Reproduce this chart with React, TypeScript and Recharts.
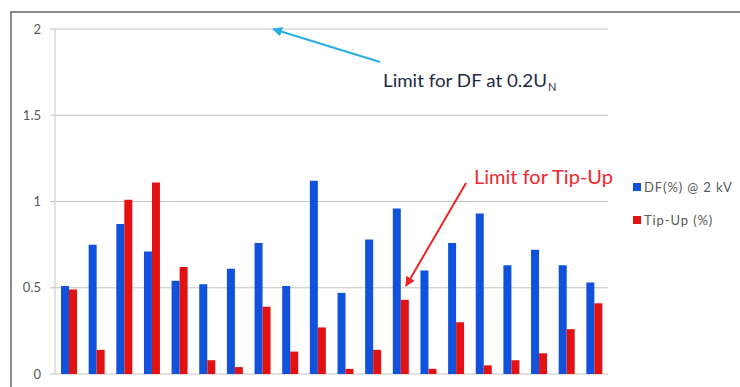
import { Bar, BarChart, CartesianGrid, Legend, XAxis, YAxis } from 'recharts';

const samples = ['1', '2', '3', '4', '5', '6', '7', '8', '9', '10', '11', '12', '13', '14', '15', '16', '17', '18', '19', '20'];
const dfValues = [0.51, 0.75, 0.87, 0.71, 0.54, 0.52, 0.61, 0.76, 0.51, 1.12, 0.47, 0.78, 0.96, 0.6, 0.76, 0.93, 0.63, 0.72, 0.63, 0.53];
const tipUpValues = [0.49, 0.14, 1.01, 1.11, 0.62, 0.08, 0.04, 0.39, 0.13, 0.27, 0.03, 0.14, 0.43, 0.03, 0.3, 0.05, 0.08, 0.12, 0.26, 0.41];
const yTicks = [0, 0.5, 1, 1.5, 2];

const BLUE = '#1052dc';
const RED = '#e31212';
const FONT = 'Lato, "Open Sans", sans-serif';

const data = samples.map((s, i) => ({ sample: s, df: dfValues[i], tipUp: tipUpValues[i] }));

function LegendBox({ payload }: { payload?: Array<{ value: string; color: string }> }) {
  return (
    <div style={{ fontFamily: FONT, fontSize: 13, letterSpacing: 0.9, color: '#595959' }}>
      {(payload ?? []).map((p) => (
        <div key={p.value} style={{ display: 'flex', alignItems: 'center', height: 33, whiteSpace: 'nowrap' }}>
          <span style={{ width: 8, height: 8, background: p.color, marginRight: 3, display: 'inline-block' }} />
          {p.value}
        </div>
      ))}
    </div>
  );
}

export default function App() {
  return (
    <div style={{ position: 'absolute', left: 0, top: 0, width: 740, height: 387, overflow: 'hidden', background: '#fff' }}>
      <div style={{ position: 'absolute', left: 10, top: 11, width: 760, height: 400, borderLeft: '2px solid #8c8c8c', borderTop: '2px solid #8c8c8c' }} />
      <BarChart
        width={740}
        height={387}
        data={data}
        margin={{ top: 29, right: 132, bottom: 13, left: 0 }}
        barGap={0}
        style={{ position: 'absolute', left: 0, top: 0 }}
      >
        <CartesianGrid vertical={false} stroke="#c4c4c4" />
        <XAxis dataKey="sample" hide />
        <YAxis
          width={55}
          domain={[0, 2]}
          ticks={yTicks}
          tickSize={5}
          tickMargin={9}
          axisLine={{ stroke: '#c4c4c4' }}
          tickLine={{ stroke: '#c4c4c4' }}
          tick={{ fontSize: 13, fill: '#595959', fontFamily: FONT }}
        />
        <Legend
          layout="vertical"
          align="center"
          verticalAlign="middle"
          wrapperStyle={{ left: 633, top: 170, width: 110 }}
          content={(props: any) => <LegendBox payload={props.payload} />}
        />
        <Bar dataKey="df" name="DF(%) @ 2 kV" fill={BLUE} barSize={8} isAnimationActive={false} />
        <Bar dataKey="tipUp" name="Tip-Up (%)" fill={RED} barSize={8} isAnimationActive={false} />
      </BarChart>
      <svg width={740} height={387} style={{ position: 'absolute', left: 0, top: 0, pointerEvents: 'none' }}>
        <defs>
          <marker id="headBlue" markerWidth="10" markerHeight="10" refX="9" refY="5" orient="auto" markerUnits="userSpaceOnUse">
            <path d="M0,0 L10,5 L0,10 z" fill="#2aaee6" />
          </marker>
          <marker id="headRed" markerWidth="10" markerHeight="10" refX="9" refY="5" orient="auto" markerUnits="userSpaceOnUse">
            <path d="M0,0 L10,5 L0,10 z" fill="#ee2424" />
          </marker>
        </defs>
        <line x1={380} y1={62} x2={273} y2={29} stroke="#2aaee6" strokeWidth={2} markerEnd="url(#headBlue)" />
        <text x={383} y={87} fontFamily={FONT} fontSize={18} fill="#1f2a44" textLength={164} lengthAdjust="spacingAndGlyphs">
          Limit for DF at 0.2U
        </text>
        <text x={548} y={91} fontFamily={FONT} fontSize={11} fill="#1f2a44">
          N
        </text>
        <line x1={466} y1={183} x2={406} y2={286} stroke="#ee2424" strokeWidth={2} markerEnd="url(#headRed)" />
        <text x={474} y={184} fontFamily={FONT} fontSize={19} fill="#f0282d" textLength={139} lengthAdjust="spacingAndGlyphs">
          Limit for Tip-Up
        </text>
      </svg>
    </div>
  );
}
